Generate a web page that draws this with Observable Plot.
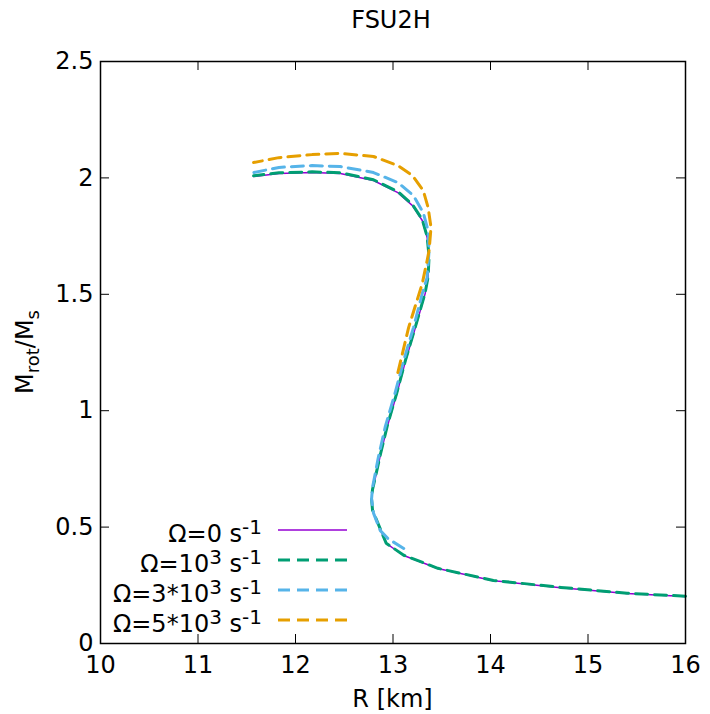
<!DOCTYPE html>
<html>
<head>
<meta charset="utf-8">
<script src="https://cdn.jsdelivr.net/npm/d3@7"></script>
<script src="https://cdn.jsdelivr.net/npm/@observablehq/plot@0.6"></script>
<style>
  html, body { margin: 0; padding: 0; background: #fff; }
  #chart { width: 710px; height: 714px; }
  svg text { font-family: "DejaVu Sans", sans-serif; }
</style>
</head>
<body>
<div id="chart"></div>
<script>
const title = "FSU2H";
const xTicks = [10, 11, 12, 13, 14, 15, 16];
const yTicks = [0, 0.5, 1, 1.5, 2, 2.5];
const yTickLabels = ["0", "0.5", "1", "1.5", "2", "2.5"];

const seriesColors = ["#9400d3", "#009e73", "#56b4e9", "#e69f00"];

// Ω = 0 (static)
const r0 = [16.0, 15.4, 14.72, 14.03, 13.46, 13.11, 12.93, 12.79, 12.78, 12.79, 12.82, 12.87, 12.94, 13.04, 13.13, 13.23, 13.33, 13.36, 13.37, 13.35, 13.30, 13.20, 13.05, 12.80, 12.46, 12.17, 11.83, 11.57];
const m0 = [0.202, 0.215, 0.24, 0.27, 0.322, 0.378, 0.43, 0.571, 0.62, 0.66, 0.713, 0.808, 0.93, 1.074, 1.216, 1.357, 1.503, 1.572, 1.658, 1.744, 1.817, 1.881, 1.937, 1.989, 2.019, 2.023, 2.019, 2.006];
// Ω = 10^3
const r1 = [16.0, 15.4, 14.72, 14.03, 13.46, 13.11, 12.93, 12.79, 12.78, 12.79, 12.82, 12.87, 12.94, 13.04, 13.13, 13.23, 13.33, 13.36, 13.37, 13.35, 13.30, 13.20, 13.05, 12.80, 12.46, 12.17, 11.83, 11.57];
const m1 = [0.203, 0.216, 0.241, 0.271, 0.323, 0.379, 0.431, 0.573, 0.622, 0.662, 0.716, 0.811, 0.933, 1.078, 1.22, 1.361, 1.507, 1.576, 1.662, 1.748, 1.821, 1.885, 1.941, 1.992, 2.022, 2.026, 2.022, 2.009];
// Ω = 3*10^3
const r2 = [13.11, 12.95, 12.87, 12.80, 12.78, 12.79, 12.85, 12.92, 13.02, 13.11, 13.21, 13.30, 13.35, 13.37, 13.36, 13.31, 13.21, 13.05, 12.80, 12.46, 12.17, 11.83, 11.57];
const m2 = [0.408, 0.45, 0.485, 0.56, 0.62, 0.67, 0.80, 0.93, 1.074, 1.216, 1.357, 1.503, 1.572, 1.688, 1.774, 1.851, 1.924, 1.98, 2.023, 2.049, 2.053, 2.045, 2.023];
// Ω = 5*10^3
const r3 = [13.05, 13.16, 13.30, 13.35, 13.37, 13.39, 13.36, 13.31, 13.20, 13.05, 12.80, 12.46, 12.17, 11.83, 11.57];
const m3 = [1.164, 1.357, 1.546, 1.645, 1.688, 1.787, 1.873, 1.946, 2.01, 2.053, 2.092, 2.105, 2.10, 2.087, 2.066];

const rs = [r0, r1, r2, r3];
const ms = [m0, m1, m2, m3];
const data = [];
rs.forEach((r, s) => r.forEach((v, i) => data.push({s, R: v, M: ms[s][i]})));

const W = 710, H = 714;
const mL = 100, mR = 25, mT = 61, mB = 71;
const innerH = H - mT - mB;
const innerW = W - mL - mR;
const tick = 9;
const FS = 24;

const plot = Plot.plot({
  width: W, height: H,
  marginLeft: mL, marginRight: mR, marginTop: mT, marginBottom: mB,
  style: {fontFamily: "DejaVu Sans, sans-serif", fontSize: FS + "px", color: "#000", background: "#fff"},
  x: {domain: [10, 16], label: null},
  y: {domain: [0, 2.5], label: null},
  marks: [
    Plot.line(data.filter(d => d.s === 0), {x: "R", y: "M", stroke: seriesColors[0], strokeWidth: 1.5}),
    Plot.line(data.filter(d => d.s === 1), {x: "R", y: "M", stroke: seriesColors[1], strokeWidth: 3, strokeDasharray: "12,7"}),
    Plot.line(data.filter(d => d.s === 2), {x: "R", y: "M", stroke: seriesColors[2], strokeWidth: 3, strokeDasharray: "12,7"}),
    Plot.line(data.filter(d => d.s === 3), {x: "R", y: "M", stroke: seriesColors[3], strokeWidth: 3, strokeDasharray: "12,7"}),
    Plot.tickX(xTicks, {x: d => d, insetTop: innerH - tick, stroke: "#000", strokeWidth: 1}),
    Plot.tickX(xTicks, {x: d => d, insetBottom: innerH - tick, stroke: "#000", strokeWidth: 1}),
    Plot.tickY(yTicks, {y: d => d, insetRight: innerW - tick, stroke: "#000", strokeWidth: 1}),
    Plot.tickY(yTicks, {y: d => d, insetLeft: innerW - tick, stroke: "#000", strokeWidth: 1}),
    Plot.axisX(xTicks, {tickSize: 0, tickPadding: 12, fontSize: FS}),
    Plot.axisY(yTicks, {tickSize: 0, tickPadding: 7, fontSize: FS, tickFormat: (d, i) => yTickLabels[i]}),
    Plot.frame({stroke: "#000", strokeWidth: 1.5})
  ]
});
document.getElementById("chart").appendChild(plot);

const svg = d3.select(plot);
svg.append("text").attr("x", 391).attr("y", 28)
  .attr("text-anchor", "middle").attr("font-size", FS).text(title);
svg.append("text").attr("x", mL + innerW / 2).attr("y", 707)
  .attr("text-anchor", "middle").attr("font-size", FS).text("R [km]");
const yl = svg.append("text").attr("transform", `translate(33,${mT + innerH / 2}) rotate(-90)`)
  .attr("text-anchor", "middle").attr("font-size", FS);
yl.append("tspan").text("M");
yl.append("tspan").attr("font-size", 18).attr("dy", 6).text("rot");
yl.append("tspan").attr("dy", -6).text("/M");
yl.append("tspan").attr("font-size", 18).attr("dy", 6).text("s");

// legend
const legBase = ["Ω=0", "Ω=10", "Ω=3*10", "Ω=5*10"];
const legSup = [null, "3", "3", "3"];
const legX = 262, legY0 = 542, legDy = 30;
seriesColors.forEach((c, i) => {
  const y = legY0 + i * legDy;
  const t = svg.append("text").attr("x", legX).attr("y", y).attr("text-anchor", "end").attr("font-size", FS);
  t.append("tspan").text(legBase[i]);
  if (legSup[i]) t.append("tspan").attr("font-size", 20).attr("dy", -8).text(legSup[i]);
  t.append("tspan").attr("dy", legSup[i] ? 8 : 0).text(" s");
  t.append("tspan").attr("font-size", 20).attr("dy", -8).text("-1");
  svg.append("line").attr("x1", 278).attr("x2", 347).attr("y1", y - 12).attr("y2", y - 12)
    .attr("stroke", c).attr("stroke-width", i === 0 ? 1.5 : 3)
    .attr("stroke-dasharray", i === 0 ? null : "12,7");
});
</script>
</body>
</html>
